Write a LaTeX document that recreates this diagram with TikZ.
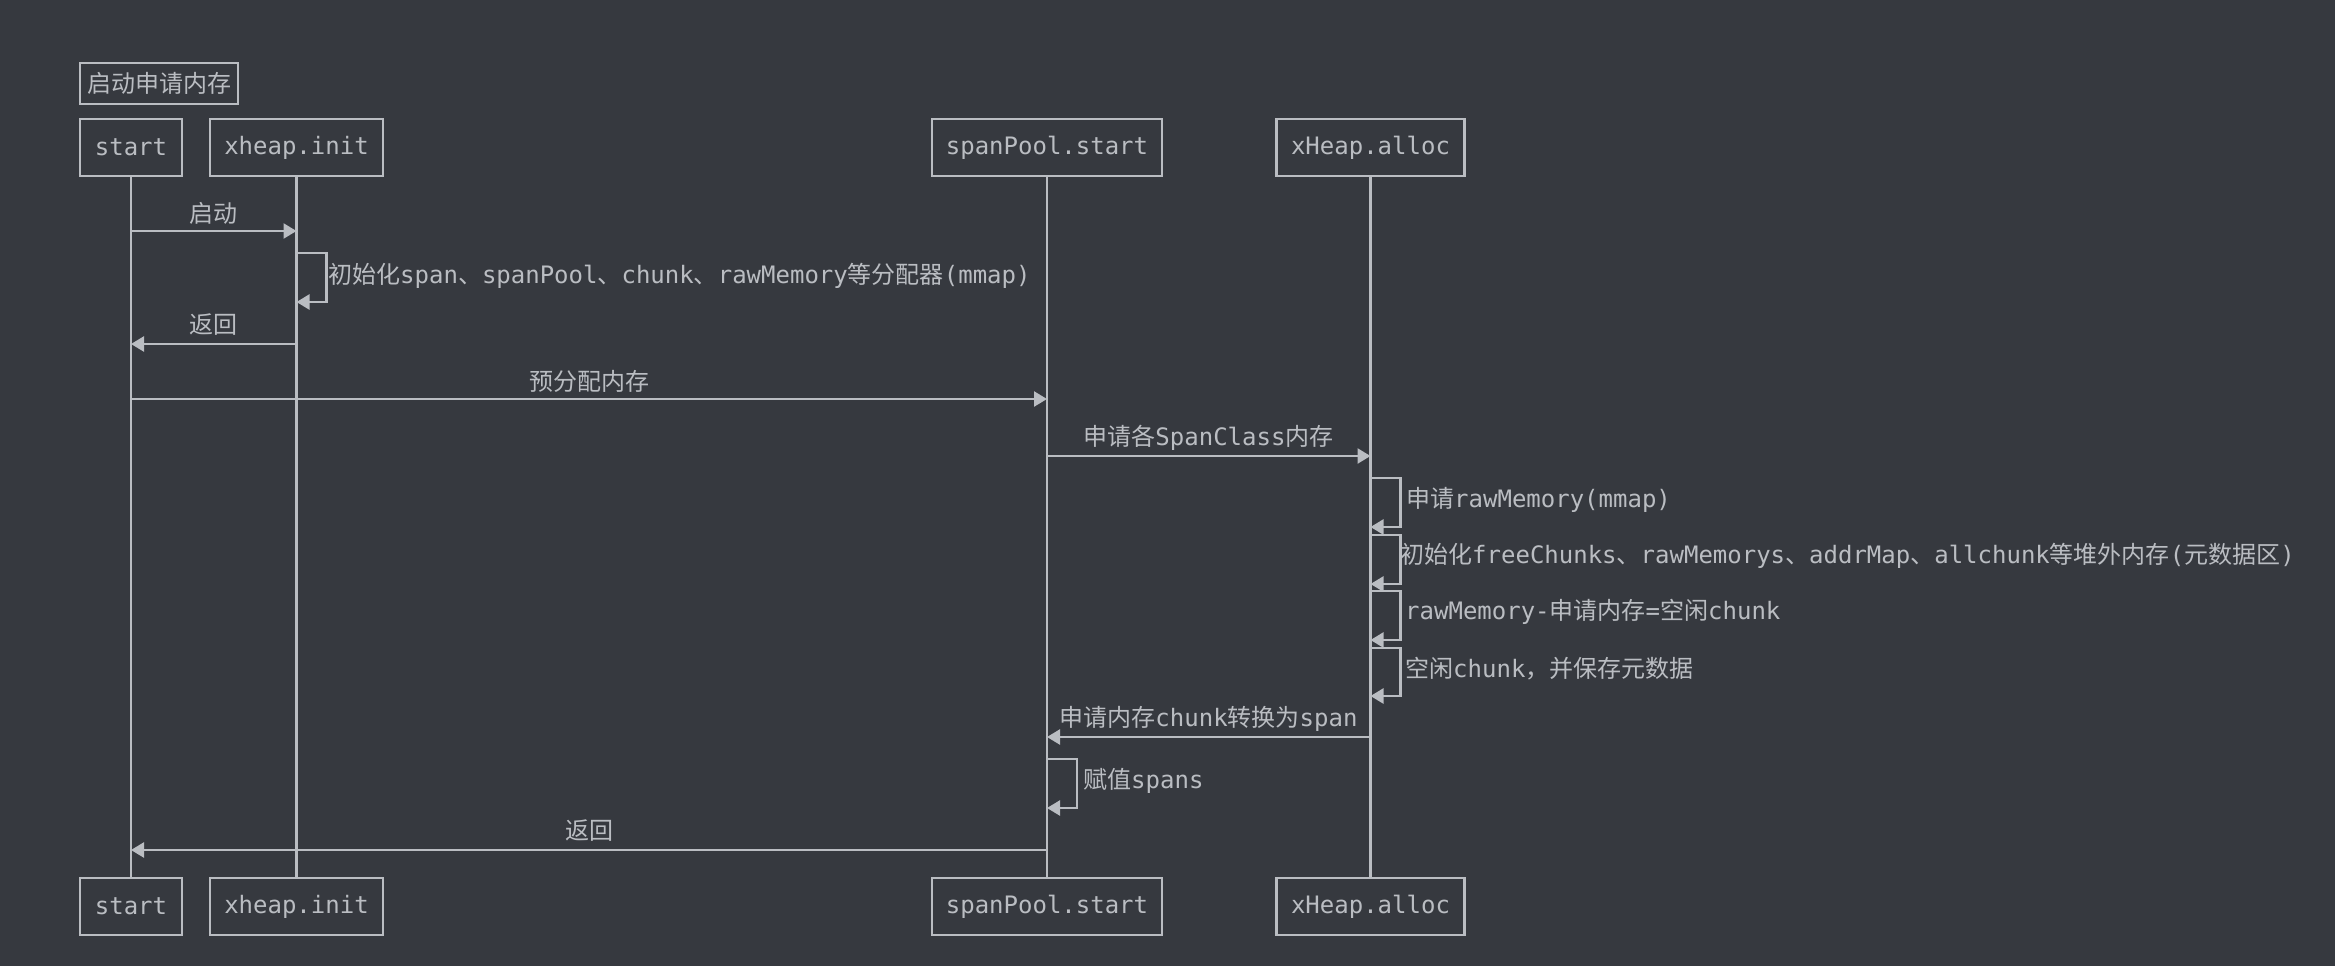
\documentclass[tikz,border=0pt]{standalone}
\usepackage{fontspec}
\setmainfont{DejaVu Sans Mono}
\newfontfamily\cjkfont{Noto Sans CJK SC}
\newcommand{\zh}[1]{{\cjkfont #1}}
\usetikzlibrary{arrows.meta}
\definecolor{bg}{RGB}{54,57,63}
\definecolor{fg}{RGB}{186,189,194}
\begin{document}
\begin{tikzpicture}[x=1pt,y=-1pt,font=\fontsize{24}{28}\selectfont,
  actor/.style={draw=fg,line width=2.5pt,minimum height=57pt,inner sep=0pt,text=fg},
  life/.style={draw=fg,line width=2.5pt},
  msg/.style={draw=fg,line width=2.5pt,line join=miter,-{Triangle[length=13pt,width=15pt]}},
  lbl/.style={inner sep=0pt,text=fg},
  slbl/.style={inner sep=0pt,text=fg,anchor=west}]
\fill[bg] (0,0) rectangle (2335,966);
\useasboundingbox (0,0) rectangle (2335,966);
% title
\node[draw=fg,line width=2.5pt,minimum width=158pt,minimum height=41pt,inner sep=0pt,text=fg] (title) at (159,83.5) {\zh{启动申请内存}};
% actors top
\node[actor,minimum width=102pt] (sT) at (131,147.5) {start};
\node[actor,minimum width=173pt] (iT) at (296.5,147.5) {xheap.init};
\node[actor,minimum width=230pt] (pT) at (1047,147.5) {spanPool.start};
\node[actor,minimum width=188pt] (aT) at (1370.5,147.5) {xHeap.alloc};
% actors bottom
\node[actor,minimum width=102pt] (sB) at (131,906.5) {start};
\node[actor,minimum width=173pt] (iB) at (296.5,906.5) {xheap.init};
\node[actor,minimum width=230pt] (pB) at (1047,906.5) {spanPool.start};
\node[actor,minimum width=188pt] (aB) at (1370.5,906.5) {xHeap.alloc};
% lifelines
\draw[life] (sT.south) -- (sB.north);
\draw[life] (iT.south) -- (iB.north);
\draw[life] (pT.south) -- (pB.north);
\draw[life] (aT.south) -- (aB.north);
% messages
\draw[msg] (sT |- 0,231) -- (iT |- 0,231);
\node[lbl] (m1) at (213.5,213) {\zh{启动}};
\draw[msg] (iT |- 0,253) -- ++(30,0) |- (iT |- 0,302);
\node[slbl] (m2) at (328,276) {\zh{初始化}span\zh{、}spanPool\zh{、}chunk\zh{、}rawMemory\zh{等分配器}(mmap)};
\draw[msg] (iT |- 0,344) -- (sT |- 0,344);
\node[lbl] (m3) at (213.5,325) {\zh{返回}};
\draw[msg] (sT |- 0,399) -- (pT |- 0,399);
\node[lbl] (m4) at (589,381) {\zh{预分配内存}};
\draw[msg] (pT |- 0,456) -- (aT |- 0,456);
\node[lbl] (m5) at (1208.5,438) {\zh{申请各}SpanClass\zh{内存}};
\draw[msg] (aT |- 0,478) -- ++(30,0) |- (aT |- 0,527);
\node[slbl] (m6) at (1406,500) {\zh{申请}rawMemory(mmap)};
\draw[msg] (aT |- 0,535) -- ++(30,0) |- (aT |- 0,584);
\node[slbl] (m7) at (1400,556) {\zh{初始化}freeChunks\zh{、}rawMemorys\zh{、}addrMap\zh{、}allchunk\zh{等堆外内存}(\zh{元数据区})};
\draw[msg] (aT |- 0,591) -- ++(30,0) |- (aT |- 0,640);
\node[slbl] (m8) at (1405,612) {rawMemory-\zh{申请内存}=\zh{空闲}chunk};
\draw[msg] (aT |- 0,648) -- ++(30,0) |- (aT |- 0,696);
\node[slbl] (m9) at (1405,669) {\zh{空闲}chunk\zh{，并保存元数据}};
\draw[msg] (aT |- 0,737) -- (pT |- 0,737);
\node[lbl] (m10) at (1208.5,719) {\zh{申请内存}chunk\zh{转换为}span};
\draw[msg] (pT |- 0,759) -- ++(30,0) |- (pT |- 0,808);
\node[slbl] (m11) at (1083,781) {\zh{赋值}spans};
\draw[msg] (pT |- 0,850) -- (sT |- 0,850);
\node[lbl] (m12) at (589,831) {\zh{返回}};
\end{tikzpicture}
\end{document}
